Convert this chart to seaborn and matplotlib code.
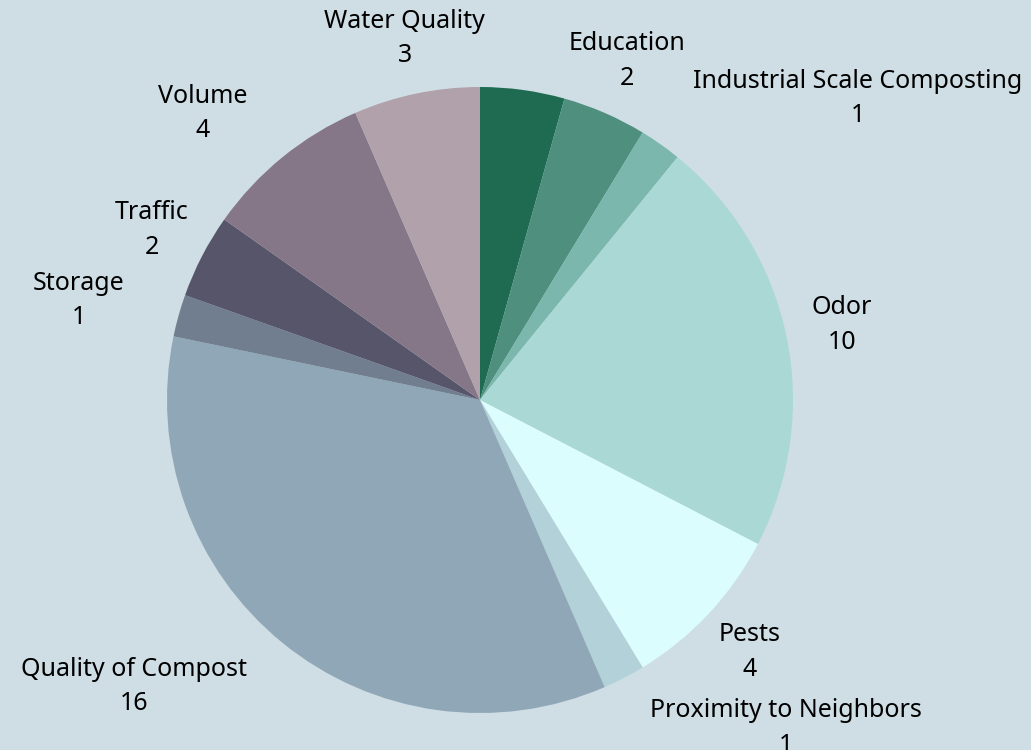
import numpy as np
import seaborn as sns
import matplotlib.pyplot as plt

# Complaint categories (clockwise from 12 o'clock), first slice has no label
categories = ["", "Education", "Industrial Scale Composting", "Odor", "Pests",
              "Proximity to Neighbors", "Quality of Compost", "Storage",
              "Traffic", "Volume", "Water Quality"]
counts = [2, 2, 1, 10, 4, 1, 16, 1, 2, 4, 3]
colors = ["#1f6b52", "#4e8f7e", "#7bb7ad", "#aad8d5", "#dbfdfd", "#b3d1d9",
          "#8fa7b6", "#717e8f", "#57556a", "#857787", "#b0a1aa"]

# label alignment per slice
label_align = ["center", "center", "left", "center", "center", "left",
               "right", "right", "center", "right", "center"]

bg = "#cfdee5"

sns.set_theme(style="white", rc={"figure.facecolor": bg, "axes.facecolor": bg})
plt.rcParams["font.family"] = ["Noto Sans", "DejaVu Sans"]

fig = plt.figure(figsize=(10.31, 7.5), dpi=100)
ax = fig.add_axes([0, 0, 1, 1])
ax.set_facecolor(bg)

labels = [f"{c}\n{v}" if c else "" for c, v in zip(categories, counts)]
wedges, texts = ax.pie(counts, colors=colors, labels=labels, startangle=90,
                       counterclock=False, radius=1, labeldistance=1.18,
                       wedgeprops={"linewidth": 0},
                       textprops={"fontsize": 18, "color": "#000000",
                                  "multialignment": "center", "linespacing": 1.5})
for t, ha in zip(texts, label_align):
    t.set_horizontalalignment(ha)

# 313 px per unit, pie centre at (480, 400) px from top-left
scale = 313
ax.set_xlim(-480 / scale, (1031 - 480) / scale)
ax.set_ylim(-350 / scale, 400 / scale)
ax.set_aspect("auto")
ax.axis("off")

fig.savefig("out.png", dpi=100, facecolor=bg)
